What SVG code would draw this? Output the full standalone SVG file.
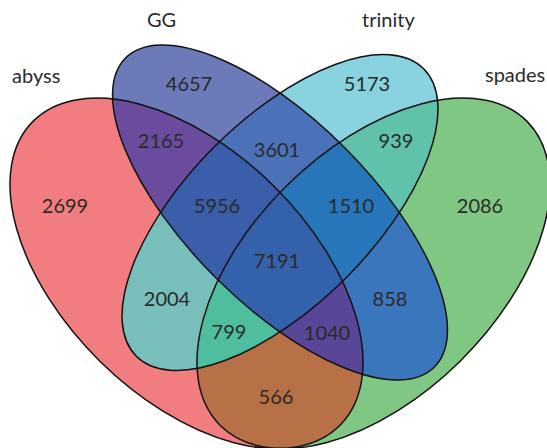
<svg xmlns="http://www.w3.org/2000/svg" xmlns:xlink="http://www.w3.org/1999/xlink" width="547" height="448" viewBox="0 0 547 448">
<style>
.outline{fill:none;stroke:#111;stroke-width:1.5}
.lbl{font-family:Lato,"Open Sans","Liberation Sans",sans-serif;font-size:20px;fill:#2a2a2a}
.num{font-family:Lato,"Open Sans","Liberation Sans",sans-serif;font-size:20px;fill:#2a2a2a;text-anchor:middle}
</style>
<defs>
<ellipse id="eA" cx="186.5" cy="273.3" rx="216" ry="123.4" transform="rotate(44.6 186.5 273.3)"/>
<ellipse id="eG" cx="280" cy="212.5" rx="218.4" ry="91.6" transform="rotate(45 280 212.5)"/>
<ellipse id="eT" cx="280" cy="212.5" rx="203.2" ry="92.9" transform="rotate(-45 280 212.5)"/>
<ellipse id="eS" cx="373.5" cy="273.3" rx="216" ry="123.4" transform="rotate(-44.6 373.5 273.3)"/>
<clipPath id="cA"><use xlink:href="#eA"/></clipPath>
<clipPath id="cG"><use xlink:href="#eG"/></clipPath>
<clipPath id="cT"><use xlink:href="#eT"/></clipPath>
<clipPath id="cS"><use xlink:href="#eS"/></clipPath>
</defs>
<rect width="547" height="448" fill="#fff"/>
<g id="regions">
<use xlink:href="#eA" fill="#F27D81"/>
<use xlink:href="#eG" fill="#6D7AB9"/>
<use xlink:href="#eT" fill="#88D3DF"/>
<use xlink:href="#eS" fill="#80C783"/>
<g clip-path="url(#cA)"><use xlink:href="#eG" fill="#6A4B9E"/></g>
<g clip-path="url(#cA)"><use xlink:href="#eT" fill="#78BFBC"/></g>
<g clip-path="url(#cA)"><use xlink:href="#eS" fill="#B87146"/></g>
<g clip-path="url(#cG)"><use xlink:href="#eT" fill="#4B72B8"/></g>
<g clip-path="url(#cG)"><use xlink:href="#eS" fill="#3A76BC"/></g>
<g clip-path="url(#cT)"><use xlink:href="#eS" fill="#60C2AA"/></g>
<g clip-path="url(#cA)"><g clip-path="url(#cG)"><use xlink:href="#eT" fill="#3A5EA9"/></g></g>
<g clip-path="url(#cA)"><g clip-path="url(#cG)"><use xlink:href="#eS" fill="#5A4698"/></g></g>
<g clip-path="url(#cA)"><g clip-path="url(#cT)"><use xlink:href="#eS" fill="#4EBE9F"/></g></g>
<g clip-path="url(#cG)"><g clip-path="url(#cT)"><use xlink:href="#eS" fill="#2776BA"/></g></g>
<g clip-path="url(#cA)"><g clip-path="url(#cG)"><g clip-path="url(#cT)"><use xlink:href="#eS" fill="#3461AB"/></g></g></g>
</g>
<g id="abyss"><use xlink:href="#eA" class="outline"/><text class="lbl" x="12" y="83">abyss</text></g>
<g id="GG"><use xlink:href="#eG" class="outline"/><text class="lbl" x="147" y="27">GG</text></g>
<g id="trinity"><use xlink:href="#eT" class="outline"/><text class="lbl" x="362" y="27">trinity</text></g>
<g id="spades"><use xlink:href="#eS" class="outline"/><text class="lbl" x="485" y="82">spades</text></g>
<g id="counts">
<text class="num" x="189" y="91">4657</text>
<text class="num" x="367" y="91">5173</text>
<text class="num" x="161" y="148">2165</text>
<text class="num" x="277" y="157">3601</text>
<text class="num" x="396" y="148">939</text>
<text class="num" x="65" y="213">2699</text>
<text class="num" x="217" y="213">5956</text>
<text class="num" x="351" y="213">1510</text>
<text class="num" x="480" y="213">2086</text>
<text class="num" x="277" y="268">7191</text>
<text class="num" x="167" y="306">2004</text>
<text class="num" x="390" y="306">858</text>
<text class="num" x="229" y="339">799</text>
<text class="num" x="327" y="340">1040</text>
<text class="num" x="276" y="404">566</text>
</g>
</svg>
